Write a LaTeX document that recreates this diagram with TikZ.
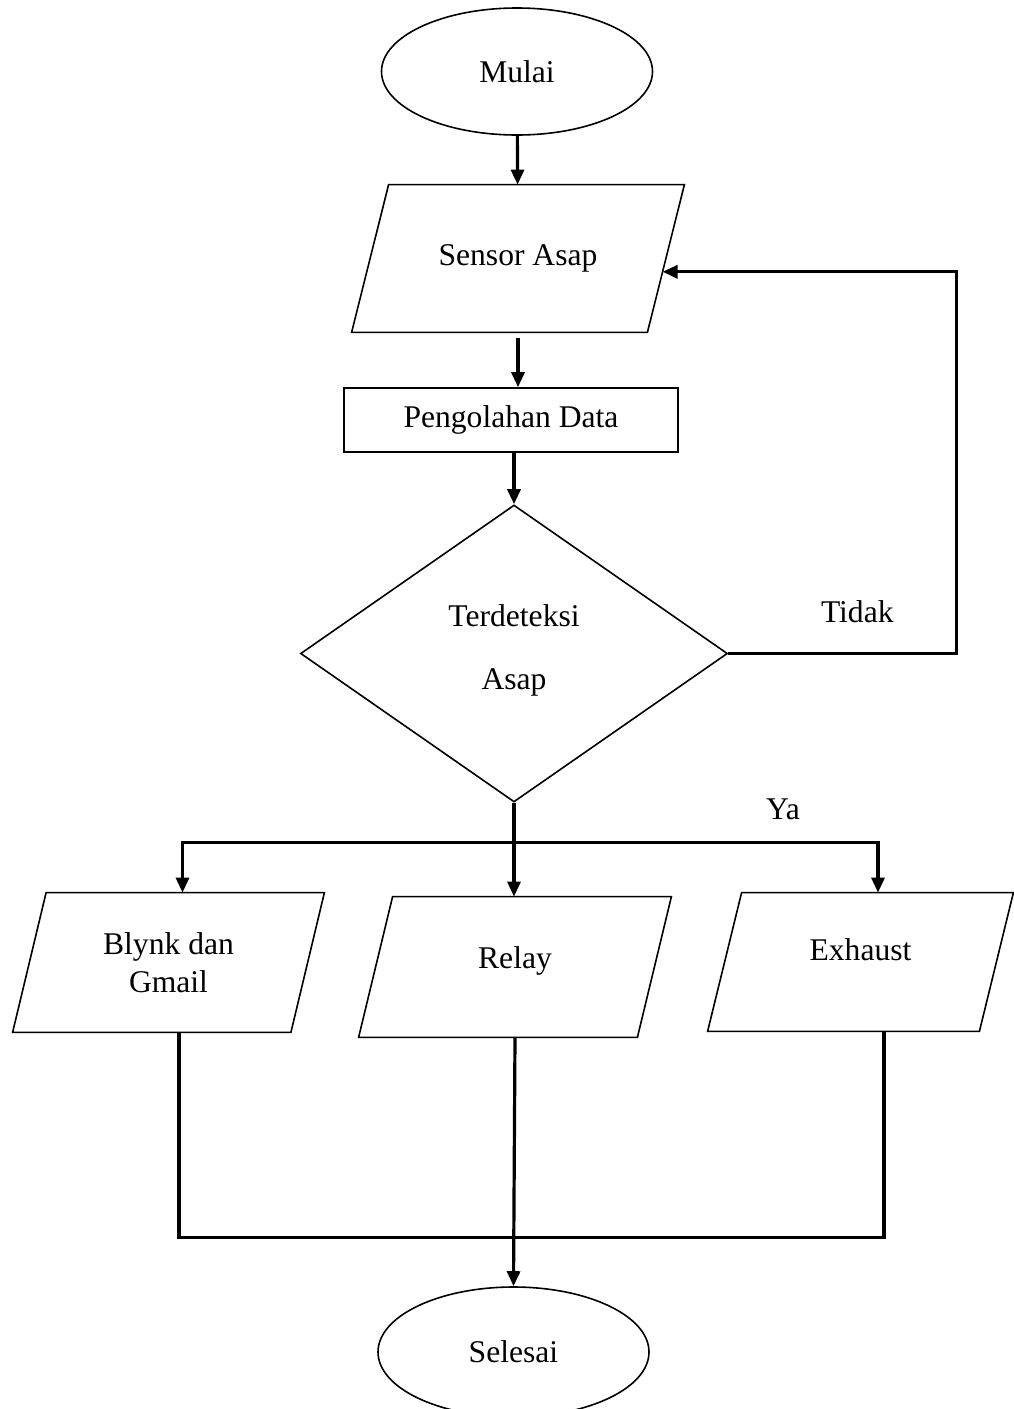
\documentclass[tikz,border=0pt]{standalone}
\usepackage{fontspec}
\setmainfont{Liberation Serif}
\usepackage{tikz}
\usetikzlibrary{shapes.geometric, arrows.meta, positioning, calc}

\begin{document}
\begin{tikzpicture}[x=0.5pt, y=-0.5pt, font=\fontsize{15.8}{19}\selectfont]
	\tikzstyle{terminal} = [ellipse, draw=black, line width=0.8pt, minimum width=135.5pt, minimum height=63.5pt, inner sep=0pt]
	
	\tikzstyle{io} = [rectangle, inner sep=0pt, align=center]
	\tikzstyle{ioline} = [draw=black, line width=0.8pt]
	
	\tikzstyle{process} = [rectangle, draw=black, line width=0.8pt, minimum width=167pt, minimum height=32pt]
	
	\tikzstyle{decision} = [diamond, aspect=1.44, draw=black, line width=0.8pt, minimum width=213.5pt, minimum height=148.5pt, inner sep=0pt, align=center]
	
	\tikzstyle{arrow} = [->, >={Triangle[length=7.5pt, width=6.5pt]}, line width=1.6pt]
	\tikzstyle{link} = [line width=1.6pt]
	
	\useasboundingbox (0,0) rectangle (1013,1409);
	
	% Nodes
	\node (start) [terminal] at (517,71.5) {Mulai};
	\node (sensor) [io, minimum width=166pt, minimum height=73.5pt, node distance=93.5pt, below of=start, xshift=0.5pt] {Sensor Asap};
	\node (olah) [process, node distance=80.75pt, below of=sensor, xshift=-3.5pt] {Pengolahan Data};
	\node (cek) [decision, node distance=116.75pt, below of=olah, xshift=1.5pt] {Terdeteksi\\[12.5pt]Asap\\[-13pt]};
	
	% Output level
	\node (relay) [io, minimum width=156pt, minimum height=70pt, node distance=156.75pt, below of=cek, xshift=0.5pt] {Relay\\[-10pt]};
	\node (blynk) [io, minimum width=155.5pt, minimum height=69.5pt, node distance=173.25pt, left of=relay, yshift=2.25pt] {Blynk dan\\Gmail};
	\node (exhaust) [io, minimum width=152.5pt, minimum height=69pt, node distance=172.75pt, right of=relay, yshift=2.5pt] {Exhaust\\[-7pt]};
	\node (end) [terminal, minimum height=65pt, node distance=192.5pt, below of=relay, xshift=-0.75pt] {Selesai};
	
	% slanted boxes
	\foreach \n/\s in {sensor/18.5pt, blynk/16.75pt, relay/17pt, exhaust/17pt}
		\draw [ioline] ([xshift=\s]\n.north west) -- (\n.north east) -- ([xshift=-\s]\n.south east) -- (\n.south west) -- cycle;
	
	\coordinate (loop) at ([xshift=114pt]cek.east);
	\coordinate (split) at ([yshift=-20pt]cek.south);
	\coordinate (join) at ([yshift=-100pt]relay.south);
	\coordinate (back) at ($(sensor.north east)!0.59!([xshift=-18.5pt]sensor.south east)$);
	
	% Labels
	\node (tidak) [above=12pt of cek.east, xshift=64.5pt] {Tidak};
	\node (ya) [above=8pt of split, xshift=134.5pt] {Ya};
	
	% Arrows
	\draw [arrow] (start) -- (sensor);
	\draw [arrow] ([yshift=-3pt]sensor.south) -- (sensor.south |- olah.north);
	\draw [arrow] (cek.north |- olah.south) -- (cek.north);
	\draw [arrow] (cek.east) -- (loop) |- (back);
	
	\draw [link] (cek.south) -- (split);
	\draw [arrow] (split) -| ([xshift=7pt]blynk.north);
	\draw [arrow] (split) -| ([xshift=8.75pt]exhaust.north);
	\draw [arrow] (split) -- (split |- relay.north);
	
	\draw [link] ([xshift=5.25pt]blynk.south) |- (join) -| ([xshift=11.75pt]exhaust.south);
	\draw [arrow] (relay.south) -- (end.north);
\end{tikzpicture}
\end{document}
